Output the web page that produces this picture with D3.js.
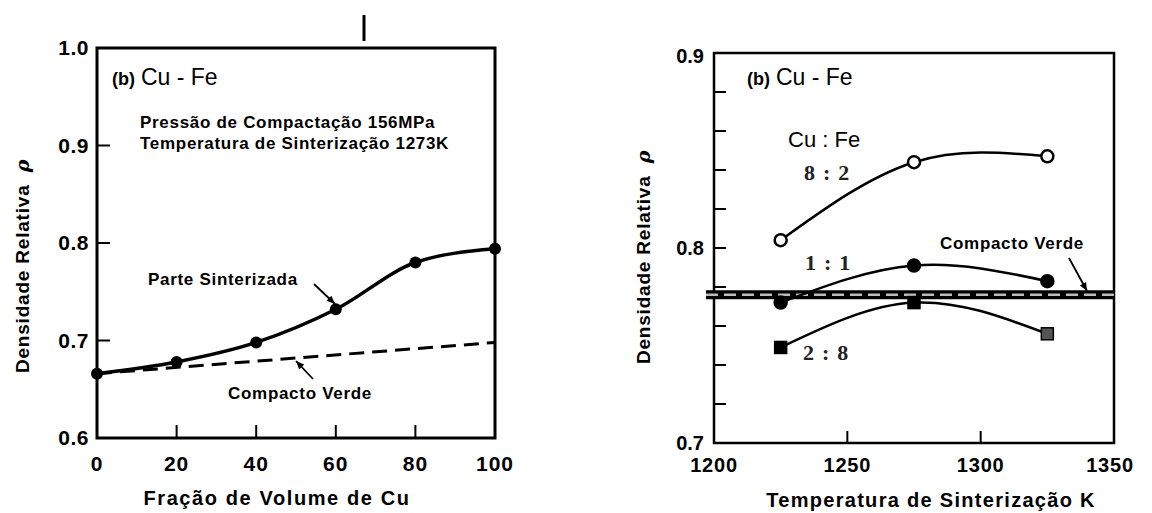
<!DOCTYPE html>
<html>
<head>
<meta charset="utf-8">
<script src="https://cdn.jsdelivr.net/npm/d3@7"></script>
<style>
  body { margin: 0; background: #fff; }
  svg { display: block; font-family: "Liberation Sans", Arial, sans-serif; }
</style>
</head>
<body>
<svg id="chart" width="1152" height="513"></svg>
<script>
// left panel: density vs Cu volume fraction
const cuFraction = [0, 20, 40, 60, 80, 100];
const sintered = [0.666, 0.678, 0.698, 0.732, 0.780, 0.794];
const greenX = [0, 100];
const greenLeft = [0.666, 0.698];
const leftXTicks = [0, 20, 40, 60, 80, 100];
const leftYTicks = [0.6, 0.7, 0.8, 0.9, 1.0];

// right panel: density vs sintering temperature
const temps = [1225, 1275, 1325];
const ratio82 = [0.804, 0.844, 0.847];
const ratio11 = [0.772, 0.791, 0.783];
const ratio28 = [0.749, 0.772, 0.756];
const greenRight = 0.776;
const rightXTicks = [1200, 1250, 1300, 1350];
const rightYMajor = [0.7, 0.8, 0.9];
const rightYMinor = [0.72, 0.74, 0.76, 0.78, 0.82, 0.84, 0.86, 0.88];

const svg = d3.select('#chart');

function frame(g, x, y, sw) {
  const [x0, x1] = x.range();
  const [y0, y1] = y.range();
  g.append('rect')
    .attr('x', x0).attr('y', y1)
    .attr('width', x1 - x0).attr('height', y0 - y1)
    .attr('fill', 'none').attr('stroke', '#000').attr('stroke-width', sw);
}

function arrow(g, x1, y1, x2, y2) {
  g.append('line')
    .attr('x1', x1).attr('y1', y1).attr('x2', x2).attr('y2', y2)
    .attr('stroke', '#000').attr('stroke-width', 1.8);
  const a = Math.atan2(y2 - y1, x2 - x1);
  const len = 9, w = 0.4;
  const p = [
    [x2, y2],
    [x2 - len * Math.cos(a - w), y2 - len * Math.sin(a - w)],
    [x2 - len * Math.cos(a + w), y2 - len * Math.sin(a + w)]
  ];
  g.append('path').attr('d', 'M' + p.join('L') + 'Z').attr('fill', '#000');
}

function note(g, tx, ty, s) {
  return g.append('text').attr('x', tx).attr('y', ty)
    .attr('font-size', 17).attr('font-weight', 'bold')
    .attr('letter-spacing', 0.7)
    .text(s);
}

function panelLabel(g, tx, ty) {
  const lab = g.append('text').attr('x', tx).attr('y', ty);
  lab.append('tspan').attr('font-size', 18).attr('font-weight', 'bold').text('(b)');
  lab.append('tspan').attr('font-size', 23).attr('dx', 6).text('Cu - Fe');
}

function yTitle(g, cx, cy) {
  const t = g.append('text')
    .attr('transform', `translate(${cx},${cy}) rotate(-90)`)
    .attr('text-anchor', 'middle')
    .attr('font-size', 19).attr('font-weight', 'bold')
    .attr('letter-spacing', 0.8);
  t.append('tspan').text('Densidade Relativa ');
  t.append('tspan').attr('font-family', 'DejaVu Serif, serif')
    .attr('font-style', 'italic').attr('dx', 6).text('ρ');
}

// ---------------- left panel ----------------
function drawLeft() {
  const g = svg.append('g');
  const x = d3.scaleLinear().domain([0, 100]).range([97, 495]);
  const y = d3.scaleLinear().domain([0.6, 1.0]).range([438, 48]);

  frame(g, x, y, 3);

  // inward ticks
  g.selectAll('.ytick').data(leftYTicks.slice(1, 4)).enter()
    .append('line')
      .attr('x1', x(0)).attr('x2', x(0) + 13)
      .attr('y1', d => y(d)).attr('y2', d => y(d))
      .attr('stroke', '#000').attr('stroke-width', 2);
  g.selectAll('.xtick').data(leftXTicks.slice(1, 5)).enter()
    .append('line')
      .attr('x1', d => x(d)).attr('x2', d => x(d))
      .attr('y1', y(0.6)).attr('y2', y(0.6) - 13)
      .attr('stroke', '#000').attr('stroke-width', 2);

  g.selectAll('.ylab').data(leftYTicks).enter()
    .append('text')
      .attr('x', 89).attr('y', d => y(d))
      .attr('dy', '0.35em').attr('text-anchor', 'end')
      .attr('font-size', 21).attr('font-weight', 'bold')
      .attr('letter-spacing', 0.5)
      .text(d => d3.format('.1f')(d));
  g.selectAll('.xlab').data(leftXTicks).enter()
    .append('text')
      .attr('x', d => x(d)).attr('y', 471)
      .attr('text-anchor', 'middle')
      .attr('font-size', 21).attr('font-weight', 'bold')
      .attr('letter-spacing', 1)
      .text(d => d);

  g.append('text')
    .attr('x', 277).attr('y', 505)
    .attr('text-anchor', 'middle')
    .attr('font-size', 20).attr('font-weight', 'bold')
    .attr('letter-spacing', 1.6)
    .text('Fração de Volume de Cu');
  yTitle(g, 29, 266);

  // green compact (dashed)
  const greenPts = greenX.map((d, i) => [x(d), y(greenLeft[i])]);
  g.append('path')
    .attr('d', d3.line()(greenPts))
    .attr('fill', 'none').attr('stroke', '#000')
    .attr('stroke-width', 3).attr('stroke-dasharray', '15,8');

  // sintered part
  const pts = cuFraction.map((d, i) => [x(d), y(sintered[i])]);
  g.append('path')
    .attr('d', d3.line().curve(d3.curveMonotoneX)(pts))
    .attr('fill', 'none').attr('stroke', '#000').attr('stroke-width', 3.5);
  g.selectAll('.pt').data(pts).enter()
    .append('circle')
      .attr('cx', d => d[0]).attr('cy', d => d[1])
      .attr('r', 6).attr('fill', '#000');

  panelLabel(g, 112, 85);

  note(g, 140, 128, 'Pressão de Compactação 156MPa');
  note(g, 140, 149, 'Temperatura de Sinterização 1273K');

  note(g, 148, 285, 'Parte Sinterizada');
  arrow(g, 314, 284, 335, 304);

  note(g, 228, 399, 'Compacto Verde');
  arrow(g, 313, 379, 296, 361);

  // stray mark at the top of the scan
  g.append('line')
    .attr('x1', 364).attr('x2', 364).attr('y1', 15).attr('y2', 41)
    .attr('stroke', '#000').attr('stroke-width', 3);
}

// ---------------- right panel ----------------
function drawRight() {
  const g = svg.append('g');
  const x = d3.scaleLinear().domain([1200, 1350]).range([714, 1114]);
  const y = d3.scaleLinear().domain([0.7, 0.9]).range([443, 53]);

  frame(g, x, y, 2.5);

  g.selectAll('.ytick').data(rightYMinor.concat([0.8])).enter()
    .append('line')
      .attr('x1', x(1200)).attr('x2', x(1200) + 12)
      .attr('y1', d => y(d)).attr('y2', d => y(d))
      .attr('stroke', '#000').attr('stroke-width', 2);
  g.selectAll('.xtick').data(rightXTicks.slice(1, 3)).enter()
    .append('line')
      .attr('x1', d => x(d)).attr('x2', d => x(d))
      .attr('y1', y(0.7)).attr('y2', y(0.7) - 12)
      .attr('stroke', '#000').attr('stroke-width', 2);

  g.selectAll('.ylab').data(rightYMajor).enter()
    .append('text')
      .attr('x', 704).attr('y', d => y(d) + (d === 0.9 ? 3 : 0))
      .attr('dy', '0.35em').attr('text-anchor', 'end')
      .attr('font-size', 20).attr('font-weight', 'bold')
      .text(d => d3.format('.1f')(d));
  g.selectAll('.xlab').data(rightXTicks).enter()
    .append('text')
      .attr('x', d => x(d) + (d === 1350 ? -4 : 0))
      .attr('y', 472)
      .attr('text-anchor', 'middle')
      .attr('font-size', 20).attr('font-weight', 'bold')
      .attr('letter-spacing', 0.8)
      .text(d => d);

  g.append('text')
    .attr('x', 931).attr('y', 507)
    .attr('text-anchor', 'middle')
    .attr('font-size', 20).attr('font-weight', 'bold')
    .attr('letter-spacing', 1.3)
    .text('Temperatura de Sinterização K');
  yTitle(g, 650, 257);

  // green compact band
  g.append('line')
    .attr('x1', 706).attr('x2', x(1350))
    .attr('y1', y(greenRight)).attr('y2', y(greenRight))
    .attr('stroke', '#000').attr('stroke-width', 9);
  g.append('line')
    .attr('x1', 706).attr('x2', x(1350))
    .attr('y1', y(greenRight)).attr('y2', y(greenRight))
    .attr('stroke', '#bbb').attr('stroke-width', 2.5)
    .attr('stroke-dasharray', '12,6');

  const line = d3.line().curve(d3.curveNatural);
  const series = [
    { vals: ratio82, shape: 'open' },
    { vals: ratio11, shape: 'dot' },
    { vals: ratio28, shape: 'square' }
  ];
  series.forEach(s => {
    const pts = temps.map((t, i) => [x(t), y(s.vals[i])]);
    g.append('path')
      .attr('d', line(pts))
      .attr('fill', 'none').attr('stroke', '#000').attr('stroke-width', 2.5);
    if (s.shape === 'square') {
      g.selectAll(null).data(pts).enter()
        .append('rect')
          .attr('x', d => d[0] - 6).attr('y', d => d[1] - 6)
          .attr('width', 12).attr('height', 12)
          .attr('fill', (d, i) => i === 2 ? '#555' : '#000')
          .attr('stroke', '#000').attr('stroke-width', 1.5);
    } else {
      g.selectAll(null).data(pts).enter()
        .append('circle')
          .attr('cx', d => d[0]).attr('cy', d => d[1])
          .attr('r', 6)
          .attr('fill', s.shape === 'open' ? '#fff' : '#000')
          .attr('stroke', '#000').attr('stroke-width', 2.5);
    }
  });

  panelLabel(g, 747, 85);

  g.append('text').attr('x', 788).attr('y', 147)
    .attr('font-size', 22).text('Cu : Fe');

  const serif = (tx, ty, s) => g.append('text').attr('x', tx).attr('y', ty)
    .attr('font-family', 'Liberation Serif, serif').attr('font-size', 22)
    .attr('font-weight', 'bold').attr('letter-spacing', 1.2)
    .attr('fill', '#222').text(s);
  serif(804, 180, '8 : 2');
  serif(805, 270, '1 : 1');
  serif(803, 360, '2 : 8');

  note(g, 940, 249, 'Compacto Verde');
  arrow(g, 1069, 258, 1087, 291);
}

drawLeft();
drawRight();
</script>
</body>
</html>
